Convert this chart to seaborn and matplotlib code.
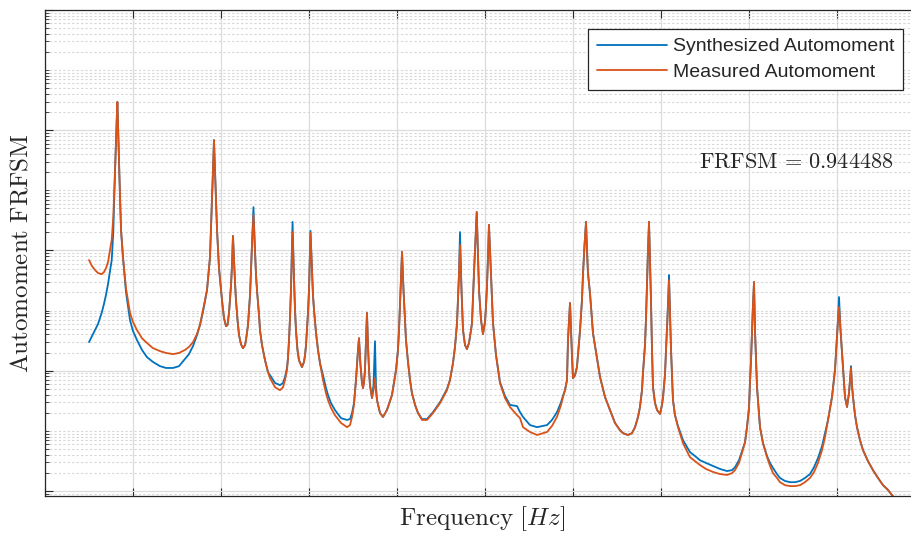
import numpy as np
import pandas as pd
import matplotlib
matplotlib.use("Agg")
import matplotlib.pyplot as plt
from matplotlib.ticker import LogLocator, MultipleLocator, NullFormatter
import seaborn as sns

# ---------------- data ----------------
# frequency in Hz (shared grid), magnitudes in dB (20*log10)
freq = [
    50.0, 53.4, 56.8, 60.2, 64.4, 67.0, 69.3, 71.6, 73.9, 75.8,
    77.6, 79.5, 81.3, 82.2, 83.0, 84.7, 86.4, 88.6, 92.0, 96.6,
    100.0, 104.5, 110.2, 115.9, 122.7, 130.7, 137.5, 145.5, 152.3, 159.1,
    163.6, 168.2, 172.7, 176.1, 179.5, 184.1, 187.5, 189.8, 191.3, 192.0,
    193.2, 194.3, 195.5, 196.6, 197.7, 200.0, 201.7, 203.4, 205.7, 207.4,
    209.1, 210.2, 211.4, 212.5, 213.6, 214.8, 215.9, 217.0, 218.8, 220.5,
    222.7, 225.0, 227.3, 228.4, 230.7, 231.8, 233.0, 234.1, 235.2, 236.9,
    238.6, 239.8, 240.9, 243.2, 244.3, 246.6, 250.0, 253.4, 255.7, 261.4,
    267.0, 270.5, 272.7, 275.0, 276.1, 277.3, 278.4, 279.5, 281.3, 283.0,
    284.1, 285.2, 286.9, 288.6, 292.0, 294.3, 295.5, 296.6, 297.7, 298.9,
    300.0, 301.7, 303.4, 304.5, 305.7, 308.0, 310.2, 312.5, 315.9, 319.3,
    321.6, 325.0, 329.5, 336.4, 343.2, 346.6, 348.9, 351.1, 353.4, 355.7,
    356.8, 358.5, 360.2, 361.4, 362.5, 363.6, 364.8, 365.9, 367.0, 368.2,
    369.3, 371.6, 373.3, 375.0, 376.1, 377.3, 380.7, 384.1, 388.6, 394.3,
    398.9, 401.1, 402.3, 403.4, 404.5, 405.7, 407.4, 409.1, 410.2, 412.5,
    414.8, 417.0, 420.5, 423.9, 428.4, 434.1, 440.9, 448.9, 456.8, 460.2,
    463.6, 465.9, 468.2, 469.3, 470.5, 471.6, 473.3, 475.0, 477.3, 479.5,
    481.8, 484.1, 485.2, 487.5, 490.6, 493.2, 495.5, 497.7, 500.0, 501.1,
    502.3, 503.4, 504.5, 506.8, 509.1, 512.5, 517.0, 522.7, 528.4, 536.4,
    539.8, 543.2, 551.1, 559.1, 570.5, 576.1, 581.8, 586.4, 588.6, 590.9,
    593.2, 594.3, 596.6, 598.9, 600.0, 602.3, 604.5, 608.0, 610.2, 611.4,
    613.1, 614.8, 615.9, 617.0, 619.3, 622.7, 627.3, 630.7, 636.4, 642.0,
    647.7, 653.4, 656.8, 662.5, 667.0, 670.5, 673.9, 676.1, 678.4, 679.5,
    681.8, 683.0, 685.2, 686.4, 687.5, 688.6, 689.8, 690.9, 693.2, 695.5,
    698.9, 701.1, 702.3, 704.5, 705.7, 708.0, 709.1, 710.2, 711.4, 713.6,
    715.9, 719.3, 725.0, 729.5, 733.0, 738.6, 744.3, 751.1, 759.1, 767.0,
    775.0, 780.7, 784.1, 788.6, 792.0, 795.5, 797.7, 800.0, 801.1, 802.3,
    803.4, 804.5, 805.7, 806.8, 809.1, 812.5, 815.9, 820.5, 823.9, 827.3,
    831.8, 835.2, 840.9, 846.6, 852.3, 858.0, 863.6, 869.3, 873.9, 878.4,
    883.0, 886.4, 889.8, 894.3, 897.7, 900.0, 901.1, 902.3, 904.0, 905.7,
    909.1, 911.4, 913.6, 914.8, 915.9, 917.0, 918.2, 920.5, 922.7, 926.1,
    929.5, 935.2, 940.9, 946.6, 952.3, 958.0, 962.5, 977.3,
]
db_measured = [
    -83.2, -85.2, -86.5, -87.5, -87.9, -87.2, -85.9, -83.9, -79.9, -76.5,
    -68.9, -54.2, -38.3, -30.6, -38.3, -56.6, -73.2, -82.2, -92.5, -100.8,
    -103.8, -106.5, -109.2, -110.8, -112.5, -113.5, -114.1, -114.5, -114.1, -113.1,
    -112.1, -110.5, -107.8, -104.8, -99.8, -93.2, -82.2, -63.2, -49.9, -43.3,
    -53.2, -63.2, -73.2, -79.9, -85.9, -93.2, -98.2, -102.5, -105.2, -104.8,
    -100.8, -96.5, -91.5, -84.9, -75.2, -83.2, -90.5, -96.5, -103.2, -108.2,
    -111.2, -112.5, -111.5, -109.8, -104.8, -99.8, -94.8, -86.5, -78.2, -68.2,
    -79.9, -88.2, -93.2, -101.5, -106.5, -111.5, -116.5, -120.5, -122.5, -125.5,
    -126.5, -125.5, -123.1, -119.8, -115.8, -109.8, -102.5, -93.2, -73.9, -89.9,
    -99.8, -106.5, -113.1, -116.5, -118.8, -117.1, -114.8, -111.5, -106.5, -100.5,
    -93.2, -74.2, -86.5, -94.8, -99.8, -107.5, -113.1, -117.5, -123.1, -127.5,
    -129.8, -132.4, -134.8, -137.4, -138.8, -138.1, -135.4, -131.4, -123.1, -113.1,
    -109.2, -118.1, -124.1, -125.8, -123.8, -119.8, -109.8, -100.8, -111.5, -119.8,
    -124.8, -129.1, -126.5, -122.5, -127.1, -129.8, -134.1, -135.4, -133.1, -128.1,
    -119.8, -113.1, -106.5, -98.2, -89.9, -80.5, -93.2, -103.2, -109.8, -117.1,
    -123.1, -127.5, -131.4, -134.1, -136.4, -136.4, -134.1, -130.8, -126.5, -123.1,
    -117.5, -112.1, -104.2, -96.5, -87.5, -78.2, -93.2, -106.5, -111.5, -112.8,
    -110.8, -106.5, -104.2, -87.5, -67.2, -93.2, -103.2, -107.8, -103.8, -98.8,
    -91.5, -82.2, -71.5, -87.5, -104.2, -114.8, -124.1, -129.1, -132.1, -134.8,
    -135.8, -138.8, -140.4, -141.4, -140.4, -138.4, -135.4, -131.4, -128.8, -126.5,
    -123.1, -109.8, -97.5, -115.5, -122.5, -121.5, -118.8, -106.5, -96.5, -87.5,
    -78.2, -70.5, -79.9, -87.5, -94.2, -107.5, -115.8, -122.1, -128.8, -133.1,
    -137.4, -139.8, -140.8, -141.4, -140.8, -138.8, -135.4, -132.1, -126.5, -120.8,
    -111.5, -102.2, -79.9, -70.5, -83.2, -96.5, -113.1, -125.5, -130.8, -133.1,
    -134.4, -131.4, -128.8, -121.5, -113.1, -98.2, -89.9, -101.5, -113.1, -129.8,
    -134.8, -138.8, -144.1, -146.8, -148.8, -150.1, -151.4, -152.7, -153.7, -154.4,
    -154.7, -154.1, -153.1, -150.7, -147.4, -143.8, -138.8, -132.4, -124.1, -116.5,
    -107.5, -98.2, -90.5, -106.5, -125.5, -138.8, -144.1, -148.8, -151.7, -154.1,
    -155.7, -157.1, -158.1, -158.4, -158.4, -158.1, -157.1, -155.7, -153.7, -150.7,
    -146.4, -142.1, -136.4, -128.8, -119.8, -108.8, -103.2, -98.8, -106.5, -114.1,
    -128.8, -132.1, -127.5, -123.1, -119.1, -124.8, -128.8, -134.8, -138.8, -143.1,
    -146.4, -150.1, -153.1, -155.7, -158.1, -159.7, -161.4, -166.4,
]
db_synth = [
    -110.5, -108.5, -106.5, -104.5, -100.8, -97.8, -94.8, -91.2, -86.9, -83.2,
    -73.9, -54.2, -38.3, -30.6, -38.3, -56.6, -73.2, -82.2, -93.8, -103.2,
    -106.8, -109.8, -113.1, -115.5, -117.1, -118.5, -119.1, -119.1, -118.5, -116.1,
    -114.5, -111.8, -108.2, -104.8, -100.5, -93.2, -82.2, -63.2, -49.9, -43.3,
    -53.2, -63.2, -73.2, -79.9, -85.9, -93.2, -98.2, -102.5, -105.2, -104.8,
    -100.8, -96.5, -91.5, -84.9, -75.2, -83.2, -90.5, -96.5, -103.2, -108.2,
    -111.2, -112.5, -111.5, -109.8, -104.8, -99.8, -94.8, -86.5, -78.2, -65.6,
    -79.9, -88.2, -93.2, -101.5, -106.5, -111.5, -116.5, -120.5, -121.5, -124.1,
    -124.8, -124.1, -122.1, -119.1, -115.8, -109.8, -102.5, -93.2, -70.5, -89.9,
    -99.8, -106.5, -113.1, -116.5, -118.8, -117.1, -114.8, -111.5, -106.5, -100.5,
    -93.2, -73.5, -86.5, -94.8, -99.8, -107.5, -113.1, -117.5, -121.5, -125.8,
    -128.1, -130.8, -133.1, -135.8, -136.4, -136.1, -134.1, -130.8, -123.1, -113.1,
    -109.2, -118.1, -124.1, -125.8, -123.8, -119.8, -109.8, -100.8, -111.5, -119.8,
    -124.8, -129.1, -124.8, -110.2, -124.8, -129.8, -134.1, -135.4, -133.1, -128.1,
    -119.8, -113.1, -106.5, -98.2, -89.9, -80.5, -93.2, -103.2, -109.8, -117.1,
    -123.1, -127.5, -131.4, -134.1, -136.1, -136.1, -133.8, -130.5, -126.1, -123.1,
    -117.5, -112.1, -104.2, -96.5, -87.5, -73.9, -93.2, -106.5, -111.5, -112.8,
    -110.8, -106.5, -104.2, -87.5, -67.2, -93.2, -103.2, -107.8, -103.8, -98.8,
    -91.5, -82.2, -71.5, -87.5, -104.2, -114.8, -123.8, -128.4, -131.4, -131.8,
    -133.8, -135.4, -138.1, -138.8, -138.1, -136.4, -133.8, -130.5, -128.4, -126.5,
    -123.1, -109.8, -97.5, -115.5, -122.5, -121.5, -118.8, -106.5, -96.5, -87.5,
    -78.2, -70.5, -79.9, -87.5, -94.2, -107.5, -115.8, -122.1, -128.8, -133.1,
    -137.4, -139.8, -140.8, -141.4, -140.8, -138.8, -135.4, -132.1, -126.5, -120.8,
    -111.5, -102.2, -79.9, -70.5, -83.2, -96.5, -113.1, -125.5, -130.8, -133.1,
    -134.4, -131.4, -128.8, -121.5, -113.1, -97.5, -88.2, -100.8, -113.1, -129.8,
    -134.8, -138.4, -143.1, -145.4, -147.1, -148.4, -149.8, -150.7, -151.7, -152.7,
    -153.4, -153.1, -152.1, -149.8, -146.8, -143.8, -138.8, -132.4, -124.1, -116.5,
    -107.5, -98.2, -90.5, -106.5, -125.5, -138.8, -144.1, -148.4, -150.7, -152.4,
    -154.4, -155.7, -156.7, -157.1, -157.1, -156.7, -155.7, -154.4, -152.1, -149.1,
    -145.1, -140.8, -136.4, -128.8, -119.8, -108.8, -103.2, -95.5, -106.5, -114.1,
    -128.8, -132.1, -127.5, -123.1, -118.5, -124.8, -128.8, -134.8, -138.8, -143.1,
    -146.4, -150.1, -153.1, -155.7, -158.1, -159.7, -161.4, -166.4,
]

series_names = ["Synthesized Automoment", "Measured Automoment"]
frfsm_value = 0.944488

# ---------------- figure ----------------
sns.set_style("white")
plt.rcParams["font.family"] = ["Liberation Sans", "DejaVu Sans"]
plt.rcParams["mathtext.fontset"] = "cm"

W, H = 912, 533
fig = plt.figure(figsize=(W / 100, H / 100), dpi=100)
L, R, T, B = 45, 920, 10, 496
ax = fig.add_axes([L / W, 1 - B / H, (R - L) / W, (B - T) / H])

df = pd.DataFrame({
    "f": freq * 2,
    "amp": np.concatenate([10 ** (np.array(db_synth) / 20), 10 ** (np.array(db_measured) / 20)]),
    "series": [series_names[0]] * len(freq) + [series_names[1]] * len(freq),
})

blue = "#0072BD"
orange = "#D95319"
sns.lineplot(data=df, x="f", y="amp", hue="series", hue_order=series_names,
             palette=[blue, orange], ax=ax, lw=1.3, estimator=None, sort=False)

ax.set_yscale("log")
ax.set_xlim(0, (R - L) * 100 / 88)
ax.set_ylim(10 ** (-161.7 / 20), 1.0)

ax.xaxis.set_major_locator(MultipleLocator(100))
ax.yaxis.set_major_locator(LogLocator(base=100, numticks=20))
ax.yaxis.set_minor_locator(LogLocator(base=10, subs=np.arange(1, 10), numticks=100))
ax.xaxis.set_major_formatter(NullFormatter())
ax.yaxis.set_major_formatter(NullFormatter())
ax.yaxis.set_minor_formatter(NullFormatter())

axis_col = "#262626"
ax.tick_params(which="both", direction="in", top=True, bottom=True, left=True, right=False,
               color=axis_col, labelbottom=False, labelleft=False)
ax.tick_params(which="major", length=6, width=0.8)
ax.tick_params(which="minor", length=3, width=0.6)

ax.grid(True, which="major", color="#DCDCDC", lw=0.9, ls="-")
ax.grid(True, which="minor", axis="y", color="#D6D6D6", lw=0.8, ls=(0, (2, 2)))
ax.set_axisbelow(True)

for side in ["left", "bottom", "top"]:
    ax.spines[side].set_color(axis_col)
    ax.spines[side].set_linewidth(0.9)
ax.spines["right"].set_visible(False)

ax.set_xlabel(r"$\mathrm{Frequency}\ [Hz]$", fontsize=18, color="#262626", labelpad=6)
ax.set_ylabel(r"$\mathrm{Automoment\ FRFSM}$", fontsize=18, color="#262626", labelpad=9)

ax.text((796.5 - L) / (R - L), (B - 163) / (B - T), r"$\mathrm{FRFSM}\,=\,%.6f$" % frfsm_value,
        transform=ax.transAxes, ha="center", va="center", fontsize=16, color="#262626")

leg = ax.legend(loc="upper right", bbox_to_anchor=((903 - L) / (R - L), (B - 29) / (B - T)),
                borderaxespad=0, frameon=True, fancybox=False, framealpha=1,
                edgecolor=axis_col, fontsize=14, handlelength=3.6, handletextpad=0.3,
                borderpad=0.45, labelspacing=0.42, title=None)
leg.get_frame().set_linewidth(0.9)
for line in leg.get_lines():
    line.set_linewidth(1.3)

fig.savefig("out.png", dpi=100)
